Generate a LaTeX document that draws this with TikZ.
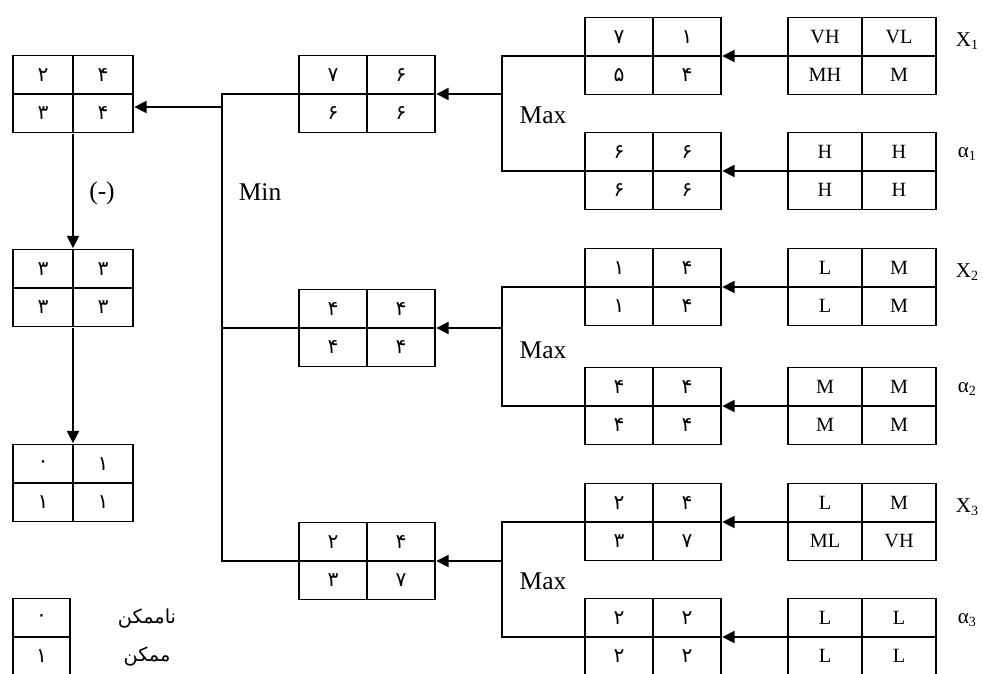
\documentclass[tikz,border=0pt]{standalone}
\usepackage{fontspec}
\setmainfont{Liberation Serif}
\newfontfamily\arabicfont[Script=Arabic]{DejaVu Sans}
\TeXXeTstate=1
\usepackage{tikz}
\usetikzlibrary{matrix, arrows.meta, positioning, calc}

\begin{document}
\begin{tikzpicture}[
        x=0.02cm, y=-0.02cm,
        line width=0.8pt,
        qbox/.style={matrix of nodes, inner sep=0pt, column sep=-0.8pt, row sep=-0.8pt, nodes={draw, minimum width=#1, minimum height=0.77cm, inner sep=0pt, anchor=center}},
        qbox/.default=1.36cm,
        num/.style={nodes={font=\arabicfont\fontsize{11.5}{13}\selectfont}},
        txt/.style={nodes={font=\fontsize{11.5}{13}\selectfont}},
        lbl/.style={font=\fontsize{14.5}{17}\selectfont},
        vlbl/.style={font=\fontsize{12}{14}\selectfont},
        arr/.style={-{Triangle[length=7pt,width=7pt]}}
    ]
    \useasboundingbox (0,0) rectangle (983,673);

    % Tabelas da esquerda (resultado)
    \matrix (res) [qbox=1.2cm, num] at (73,94) {
        ۲ & ۴ \\
        ۳ & ۴ \\
    };
    \matrix (dif) [qbox=1.2cm, num] at (73,288) {
        ۳ & ۳ \\
        ۳ & ۳ \\
    };
    \matrix (fin) [qbox=1.2cm, num] at (73,483) {
        ۰ & ۱ \\
        ۱ & ۱ \\
    };
    \matrix (leg) [qbox=1.14cm, num] at (41.5,637) {
        ۰ \\
        ۱ \\
    };
    \node (imp) at (147,619) {\arabicfont\fontsize{11}{13}\selectfont\beginR ناممکن\endR};
    \node (pos) at (147,657) {\arabicfont\fontsize{11}{13}\selectfont\beginR ممکن\endR};

    % Coluna do Min
    \matrix (mn1) [qbox, num] at (367,94) {
        ۷ & ۶ \\
        ۶ & ۶ \\
    };
    \matrix (mn2) [qbox, num] at (367,328) {
        ۴ & ۴ \\
        ۴ & ۴ \\
    };
    \matrix (mn3) [qbox, num] at (367,561) {
        ۲ & ۴ \\
        ۳ & ۷ \\
    };

    % Coluna do Max
    \matrix (vx1) [qbox, num] at (653,56) {
        ۷ & ۱ \\
        ۵ & ۴ \\
    };
    \matrix (val1) [qbox, num] at (653,171) {
        ۶ & ۶ \\
        ۶ & ۶ \\
    };
    \matrix (vx2) [qbox, num] at (653,287) {
        ۱ & ۴ \\
        ۱ & ۴ \\
    };
    \matrix (val2) [qbox, num] at (653,406) {
        ۴ & ۴ \\
        ۴ & ۴ \\
    };
    \matrix (vx3) [qbox, num] at (653,522) {
        ۲ & ۴ \\
        ۳ & ۷ \\
    };
    \matrix (val3) [qbox, num] at (653,637) {
        ۲ & ۲ \\
        ۲ & ۲ \\
    };

    % Tabelas linguisticas
    \matrix (x1) [qbox=1.48cm, txt] at (862,56) {
        VH & VL \\
        MH & M \\
    };
    \matrix (al1) [qbox=1.48cm, txt] at (862,171) {
        H & H \\
        H & H \\
    };
    \matrix (x2) [qbox=1.48cm, txt] at (862,287) {
        L & M \\
        L & M \\
    };
    \matrix (al2) [qbox=1.48cm, txt] at (862,406) {
        M & M \\
        M & M \\
    };
    \matrix (x3) [qbox=1.48cm, txt] at (862,522) {
        L & M \\
        ML & VH \\
    };
    \matrix (al3) [qbox=1.48cm, txt] at (862,637) {
        L & L \\
        L & L \\
    };

    \node[vlbl] (lx1) at ([xshift=0.6cm,yshift=0.3cm]x1.east) {X\textsubscript{1}};
    \node[vlbl] (la1) at ([xshift=0.6cm,yshift=0.34cm]al1.east) {α\textsubscript{1}};
    \node[vlbl] (lx2) at ([xshift=0.6cm,yshift=0.3cm]x2.east) {X\textsubscript{2}};
    \node[vlbl] (la2) at ([xshift=0.6cm,yshift=0.34cm]al2.east) {α\textsubscript{2}};
    \node[vlbl] (lx3) at ([xshift=0.6cm,yshift=0.3cm]x3.east) {X\textsubscript{3}};
    \node[vlbl] (la3) at ([xshift=0.6cm,yshift=0.34cm]al3.east) {α\textsubscript{3}};

    % Setas para o Max
    \draw[arr] (x1.west) -- (vx1.east);
    \draw[arr] (al1.west) -- (val1.east);
    \draw[arr] (x2.west) -- (vx2.east);
    \draw[arr] (al2.west) -- (val2.east);
    \draw[arr] (x3.west) -- (vx3.east);
    \draw[arr] (al3.west) -- (val3.east);

    % Colchetes do Max
    \coordinate (maxbar) at (502,0);
    \draw (vx1.west) -- (vx1.west -| maxbar) |- (val1.west);
    \draw (vx2.west) -- (vx2.west -| maxbar) |- (val2.west);
    \draw (vx3.west) -- (vx3.west -| maxbar) |- (val3.west);
    \node[lbl] (max1) at (543,115) {Max};
    \node[lbl] (max2) at (543,350) {Max};
    \node[lbl] (max3) at (543,581) {Max};
    \draw[arr] (mn1.east -| maxbar) -- (mn1.east);
    \draw[arr] (mn2.east -| maxbar) -- (mn2.east);
    \draw[arr] (mn3.east -| maxbar) -- (mn3.east);

    % Colchete do Min
    \coordinate (minbar) at (222,0);
    \draw (mn1.west) -- (mn1.west -| minbar) |- (mn3.west);
    \draw (mn2.west) -- (mn2.west -| minbar);
    \node[lbl] (min) at (260,192) {Min};
    \coordinate (minout) at (222,107);
    \draw[arr] (minout) -- (minout -| res.east);

    % Subtracao
    \draw[arr] (res.south) -- (dif.north);
    \node[lbl] (sub) at (102,193) {(-)};
    \draw[arr] (dif.south) -- (fin.north);
\end{tikzpicture}
\end{document}
